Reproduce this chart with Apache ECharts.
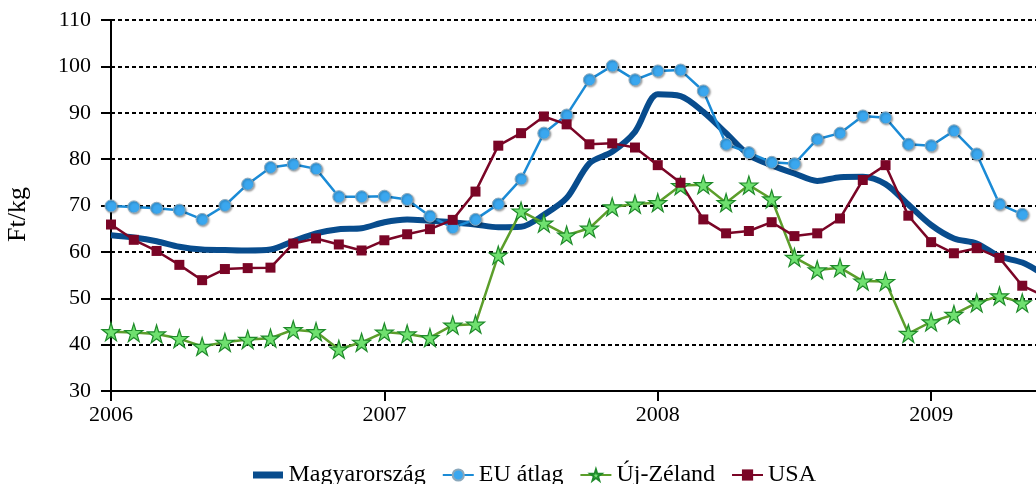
<!DOCTYPE html>
<html>
<head>
<meta charset="utf-8">
<script src="https://cdn.jsdelivr.net/npm/echarts@6/dist/echarts.min.js"></script>
<style>
  html, body { margin: 0; padding: 0; background: #fff; }
  #main { width: 1036px; height: 484px; }
</style>
</head>
<body>
<div id="main"></div>
<script>
// monthly prices, Jan 2006 onwards (Ft/kg)
var magyar = [63.6, 63.1, 62.3, 61.1, 60.5, 60.4, 60.3, 60.5, 62.3, 64.0, 64.9, 65.1, 66.4, 67.0,
              66.7, 66.4, 65.9, 65.3, 65.4, 68.0, 71.6, 79.1, 81.6, 85.9, 94.0, 93.6, 90.2, 85.6,
              80.9, 78.7, 76.9, 75.3, 76.1, 76.2, 74.6, 70.2, 65.8, 62.9, 61.8, 59.0, 57.7, 55.0];
var euAtlag = [69.9, 69.7, 69.4, 69.0, 67.0, 70.0, 74.6, 78.2, 78.9, 77.9, 71.9, 71.9, 72.0, 71.3,
               67.7, 65.2, 67.0, 70.3, 75.7, 85.6, 89.5, 97.1, 100.1, 97.1, 99.0, 99.2, 94.7, 83.2,
               81.4, 79.3, 79.0, 84.3, 85.6, 89.3, 88.9, 83.2, 82.9, 86.1, 81.1, 70.3, 68.1];
var ujZeland = [42.8, 42.6, 42.3, 41.3, 39.6, 40.5, 41.1, 41.4, 43.2, 42.8, 39.0, 40.5, 42.7, 42.3,
                41.5, 44.2, 44.4, 59.3, 68.8, 66.2, 63.6, 65.1, 69.7, 70.3, 70.6, 74.3, 74.5, 70.6,
                74.4, 71.4, 58.8, 56.1, 56.6, 53.7, 53.6, 42.4, 44.9, 46.5, 49.0, 50.5, 49.0];
var usa = [65.9, 62.6, 60.2, 57.2, 53.9, 56.3, 56.5, 56.6, 61.8, 62.9, 61.6, 60.3, 62.5, 63.8,
           64.9, 66.9, 73.0, 82.9, 85.6, 89.2, 87.5, 83.2, 83.4, 82.5, 78.7, 74.9, 67.0, 64.0,
           64.5, 66.4, 63.4, 64.0, 67.2, 75.5, 78.7, 67.8, 62.1, 59.7, 60.8, 58.7, 52.7, 50.4];
var seriesNames = ['Magyarország', 'EU átlag', 'Új-Zéland', 'USA'];
var yTicks = [30, 110, 10];

var months = [];
for (var y = 2006; y <= 2010; y++) {
    for (var m = 1; m <= 12; m++) {
        months.push(y + '-' + (m < 10 ? '0' + m : m));
        if (y == 2010) break;
    }
}

var starPath = 'path://M50,0 L61,35 L98,35 L68,57 L79,91 L50,70 L21,91 L32,57 L2,35 L39,35 Z';
var barIcon = 'path://M0,0h0.1v0.1h-0.1z M0,3.5h30v7h-30z M29.9,13.9h0.1v0.1h-0.1z';
var serif = 'Liberation Serif';

var myChart = echarts.init(document.getElementById('main'));
myChart.setOption({
    animation: false,
    textStyle: { fontFamily: serif, color: '#000' },
    // plot runs past the right edge of the picture, as in the original
    grid: { left: 111, top: 20, bottom: 93, width: 1093.5, outerBoundsMode: 'none', containLabel: false },
    legend: {
        left: 248,
        top: 458,
        itemGap: 16,
        itemWidth: 31,
        itemHeight: 14,
        textStyle: { fontFamily: serif, fontSize: 24, color: '#000' },
        data: [
            { name: seriesNames[0], icon: barIcon },
            seriesNames[1], seriesNames[2], seriesNames[3]
        ]
    },
    xAxis: {
        type: 'category',
        boundaryGap: false,
        data: months,
        axisLine: { lineStyle: { color: '#000', width: 2 } },
        axisTick: {
            length: 10,
            lineStyle: { color: '#000', width: 2 },
            interval: function (i) { return i % 12 === 0; }
        },
        axisLabel: {
            interval: function (i) { return i % 12 === 0; },
            formatter: function (v) { return v.slice(0, 4); },
            fontFamily: serif, fontSize: 22, color: '#000', margin: 13
        },
        splitLine: { show: false }
    },
    yAxis: {
        type: 'value',
        min: yTicks[0],
        max: yTicks[1],
        interval: yTicks[2],
        name: 'Ft/kg',
        nameLocation: 'middle',
        nameGap: 80,
        nameTextStyle: { fontFamily: serif, fontSize: 26, color: '#000', padding: [0, 18, 0, 0] },
        axisLine: { show: true, lineStyle: { color: '#000', width: 2 } },
        axisTick: { show: true, length: 10, lineStyle: { color: '#000', width: 2 } },
        axisLabel: { fontFamily: serif, fontSize: 22, color: '#000', margin: 20 },
        splitLine: { lineStyle: { color: '#000', width: 2, type: [4, 3] } }
    },
    series: [
        {
            name: seriesNames[0],
            type: 'line',
            data: magyar,
            smooth: 0.3,
            symbol: 'none',
            lineStyle: { color: '#084c8d', width: 6 },
            itemStyle: { color: '#084c8d' }
        },
        {
            name: seriesNames[1],
            type: 'line',
            data: euAtlag,
            symbol: 'circle',
            symbolSize: 12,
            showAllSymbol: true,
            lineStyle: { color: '#1b8bd6', width: 2.5 },
            itemStyle: {
                color: '#3aa7ef', borderColor: '#8aa8bc', borderWidth: 1,
                shadowColor: 'rgba(0,0,0,0.35)', shadowBlur: 2, shadowOffsetX: 1, shadowOffsetY: 1
            }
        },
        {
            name: seriesNames[2],
            type: 'line',
            data: ujZeland,
            symbol: starPath,
            symbolSize: 18,
            showAllSymbol: true,
            lineStyle: { color: '#5c9e2b', width: 2.5 },
            itemStyle: { color: '#6fe06f', borderColor: '#1f8a2a', borderWidth: 1.2 }
        },
        {
            name: seriesNames[3],
            type: 'line',
            data: usa,
            symbol: 'rect',
            symbolSize: 10,
            showAllSymbol: true,
            lineStyle: { color: '#7a0526', width: 2.5 },
            itemStyle: { color: '#7a0526' }
        }
    ]
});
</script>
</body>
</html>
